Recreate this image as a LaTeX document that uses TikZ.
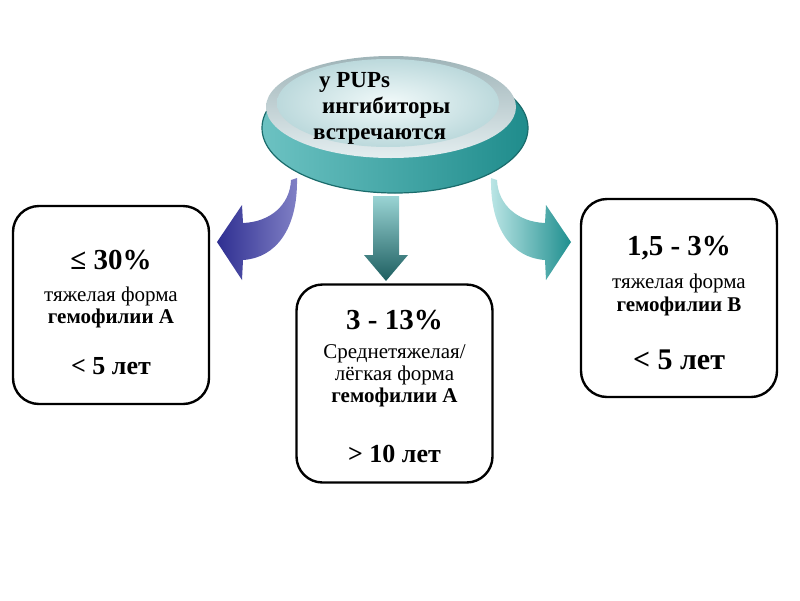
\documentclass[tikz,border=0pt]{standalone}
\usepackage{fontspec}
\setmainfont{Liberation Serif}
\usetikzlibrary{positioning,calc}

\definecolor{discedge}{HTML}{1A6B6B}
\definecolor{discleft}{HTML}{6CC2C2}
\definecolor{discright}{HTML}{1F8C8C}
\definecolor{rimgray}{HTML}{9FB4B8}
\definecolor{rimlight}{HTML}{E4EEF0}
\definecolor{facelight}{HTML}{F2FAFA}
\definecolor{faceouter}{HTML}{BCD9DC}
\definecolor{bluetip}{HTML}{2F2F91}
\definecolor{bluetail}{HTML}{8181C6}
\definecolor{tealtop}{HTML}{9AD4D4}
\definecolor{tealbot}{HTML}{1D5E60}
\definecolor{cyantail}{HTML}{BCE6E6}
\definecolor{cyantip}{HTML}{1F8F8F}

\tikzstyle{infobox}=[draw, line width=2.4pt, rounded corners=26pt, minimum width=196pt, minimum height=198pt, inner sep=0pt]
\tikzstyle{boxtext}=[align=center, inner sep=0pt, font=\fontsize{21}{22}\selectfont]
\tikzstyle{hubtext}=[align=left, inner sep=0pt, font=\fontsize{23}{26}\selectfont\bfseries]

\newcommand{\bignum}[1]{{\fontsize{29}{29}\selectfont\bfseries #1}}
\newcommand{\agetxt}[2]{{\fontsize{#1}{#1}\selectfont\bfseries #2}}

\begin{document}
\begin{tikzpicture}[x=1pt,y=-1pt]
\useasboundingbox (0,0) rectangle (800,600);
% disc
\shade[left color=discleft, right color=discright, draw=discedge, line width=1.2pt] (395,128) ellipse [x radius=133, y radius=65];
\shade[top color=rimgray, bottom color=rimlight] (391,107) ellipse [x radius=125, y radius=51];
\shade[inner color=facelight, outer color=faceouter] (388,103) ellipse [x radius=111, y radius=44];
\node[hubtext, anchor=north west] (hub) at (313,72) {\hspace*{6pt}у PUPs\\ \hspace*{9pt}ингибиторы\\ встречаются};

% boxes
\node[infobox] (leftbox) at (111,305) {};
\node[infobox] (midbox) at (394.5,383.5) {};
\node[infobox] (rightbox) at (679,298) {};
\node[boxtext] (lefttext) at ($(leftbox.center)+(0,7)$) {\bignum{≤ 30\%}\\[10pt] тяжелая форма\\ \textbf{гемофилии А}\\[29pt] \agetxt{26}{< 5 лет}};
\node[boxtext] (midtext) at ($(midbox.center)+(0,3)$) {\bignum{3 - 13\%}\\[7pt] Среднетяжелая/\\ лёгкая форма\\ \textbf{гемофилии А}\\[38pt] \agetxt{26}{> 10 лет}};
\node[boxtext] (righttext) at ($(rightbox.center)+(0,5)$) {\bignum{1,5 - 3\%}\\[11pt] тяжелая форма\\[1pt] \textbf{гемофилии В}\\[33pt] \agetxt{30}{< 5 лет}};

% arrows
\shade[left color=bluetip, right color=bluetail] (297,178) .. controls (298,230) and (275,258) .. (243,260) -- (242,280) -- (217,242) -- (242,205) -- (243,223) .. controls (270,222) and (290,205) .. (291,180) -- cycle;
\shade[top color=tealtop, bottom color=tealbot] (373,196) -- (399,196) -- (399,255) -- (408,255) -- (386,281) -- (364,255) -- (373,255) -- cycle;
\shade[left color=cyantail, right color=cyantip] (491,178) .. controls (490,230) and (513,258) .. (545,260) -- (546,280) -- (571,242) -- (546,205) -- (545,223) .. controls (518,222) and (498,205) .. (497,180) -- cycle;
\end{tikzpicture}
\end{document}
